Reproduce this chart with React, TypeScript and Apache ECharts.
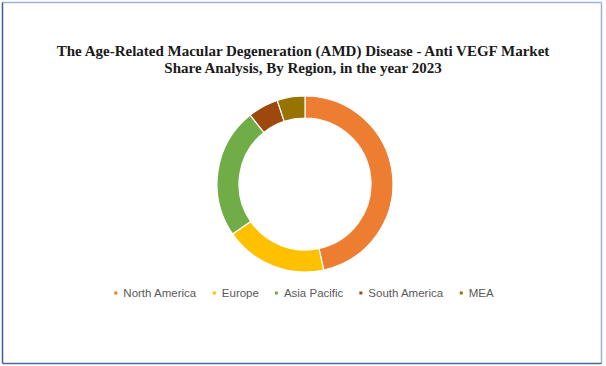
import React, { useEffect, useRef } from "react";
import * as echarts from "echarts";

const regions = ["North America", "Europe", "Asia Pacific", "South America", "MEA"];
const shares = [46.6, 18.8, 23.9, 5.6, 5.1];
const colors = ["#ED7D31", "#FFC000", "#70AD47", "#9E480E", "#997300"];
const titleLines = [
  "The Age-Related Macular Degeneration (AMD) Disease - Anti VEGF Market",
  "Share Analysis, By Region, in the year 2023",
];

export default function App() {
  const ref = useRef<HTMLDivElement>(null);
  useEffect(() => {
    if (!ref.current) return;
    const chart = echarts.init(ref.current, null, { renderer: "svg" });
    chart.setOption({
      animation: false,
      backgroundColor: "#ffffff",
      title: {
        text: titleLines.join("\n"),
        left: "center",
        top: 37,
        textStyle: {
          fontFamily: "Liberation Serif",
          fontWeight: "bold",
          fontSize: 15,
          lineHeight: 17,
          color: "#1a1a1a",
        },
      },
      legend: {
        data: regions,
        bottom: 62,
        left: "center",
        icon: "rect",
        itemWidth: 5,
        itemHeight: 5,
        itemGap: 14,
        textStyle: { fontFamily: "Liberation Sans", fontSize: 11.5, color: "#595959" },
      },
      graphic: [
        { type: "line", shape: { x1: 2.5, y1: 2.5, x2: 601.5, y2: 2.5 }, style: { stroke: "#9fb1dc", lineWidth: 1.5 } },
        { type: "line", shape: { x1: 601.5, y1: 2.5, x2: 601.5, y2: 363.5 }, style: { stroke: "#9fb1dc", lineWidth: 1.5 } },
        { type: "line", shape: { x1: 2.5, y1: 2.5, x2: 2.5, y2: 363.5 }, style: { stroke: "#3f5f9a", lineWidth: 1.5 } },
        { type: "line", shape: { x1: 2.5, y1: 363.5, x2: 601.5, y2: 363.5 }, style: { stroke: "#4a67a0", lineWidth: 1.5 } },
      ],
      series: [
        {
          type: "pie",
          center: [305, 184],
          radius: [66, 88],
          startAngle: 90,
          clockwise: true,
          label: { show: false },
          labelLine: { show: false },
          emphasis: { disabled: true },
          itemStyle: { borderColor: "#ffffff", borderWidth: 1.2 },
          data: regions.map((name, i) => ({
            name,
            value: shares[i],
            itemStyle: { color: colors[i] },
          })),
        },
      ],
    });
    return () => chart.dispose();
  }, []);
  return (
    <div
      ref={ref}
      style={{ position: "fixed", left: 0, top: 0, width: 606, height: 366 }}
    />
  );
}
